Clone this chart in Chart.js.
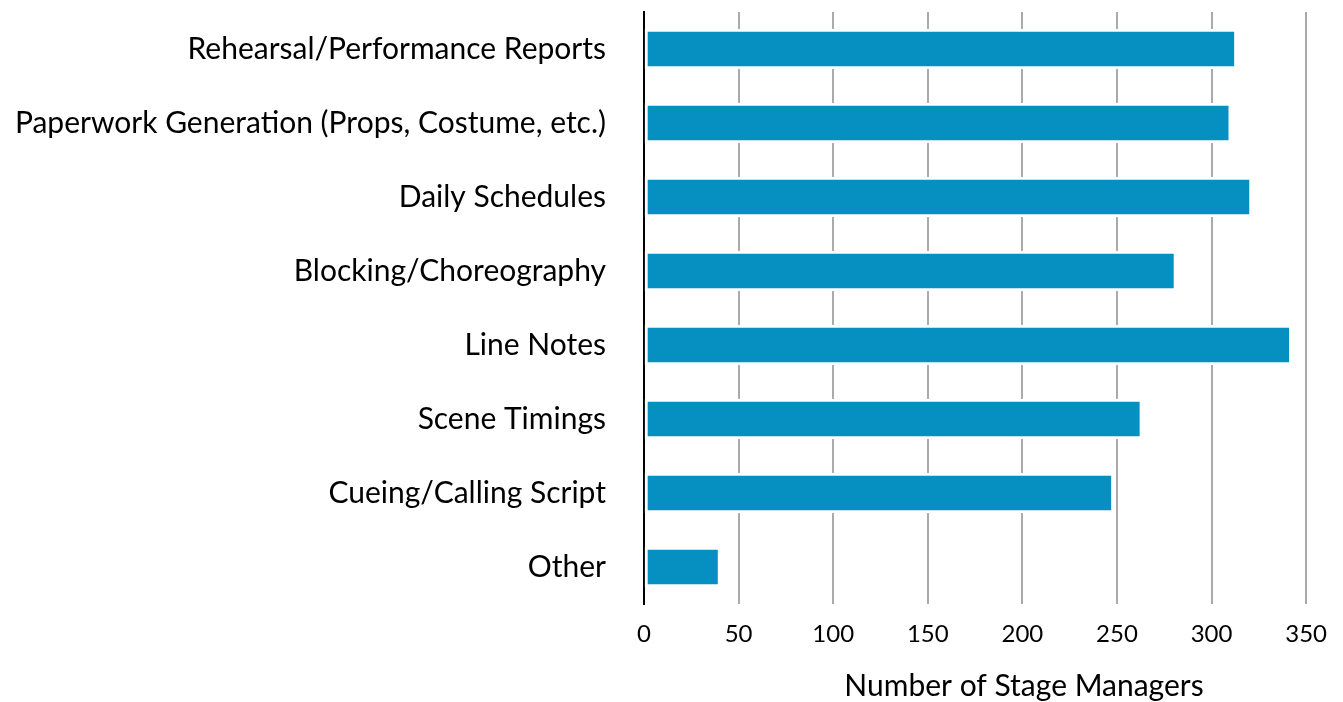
<!DOCTYPE html>
<html>
<head>
<meta charset="utf-8">
<script src="https://cdn.jsdelivr.net/npm/chart.js@4/dist/chart.umd.min.js"></script>
<style>
html,body{margin:0;padding:0;background:#fff;}
#wrap{width:1343px;height:702px;position:relative;}
</style>
</head>
<body>
<div id="wrap"><canvas id="c" width="1343" height="702"></canvas></div>
<script>
const categories = [
  "Rehearsal/Performance Reports",
  "Paperwork Generation (Props, Costume, etc.)",
  "Daily Schedules",
  "Blocking/Choreography",
  "Line Notes",
  "Scene Timings",
  "Cueing/Calling Script",
  "Other"
];
const stageManagers = [312, 309, 320, 280, 341, 262, 247, 39];
const xTicks = [0, 50, 100, 150, 200, 250, 300, 350];
const xTitle = "Number of Stage Managers";

const FONT = "Lato, 'Open Sans', sans-serif";

const axisTitlePlugin = {
  id: 'axisTitle',
  afterDraw(chart) {
    const ctx = chart.ctx;
    ctx.save();
    ctx.font = "30px " + FONT;
    ctx.fillStyle = '#000';
    ctx.textAlign = 'center';
    ctx.textBaseline = 'middle';
    ctx.fillText(xTitle, 1024, 686);
    ctx.restore();
  }
};

new Chart(document.getElementById('c'), {
  type: 'bar',
  data: {
    labels: categories,
    datasets: [{
      data: stageManagers,
      backgroundColor: '#068FC1',
      borderColor: '#ffffff',
      borderWidth: {left: 3, top: 3, bottom: 3, right: 0},
      borderSkipped: false,
      barThickness: 40
    }]
  },
  plugins: [axisTitlePlugin],
  options: {
    indexAxis: 'y',
    responsive: false,
    animation: false,
    layout: {padding: {top: 12, right: 36, left: 0, bottom: 0}},
    plugins: {legend: {display: false}, tooltip: {enabled: false}},
    scales: {
      x: {
        min: 0, max: 350,
        afterBuildTicks: (s) => { s.ticks = xTicks.map(v => ({value: v})); },
        afterFit: (s) => { s.height = 98; s.paddingLeft = 0; },
        grid: {color: '#AAAAAA', lineWidth: 2, drawTicks: false},
        border: {display: false},
        ticks: {color: '#000', font: {family: FONT, size: 24}, padding: 16}
      },
      y: {
        afterFit: (s) => { s.width = 644; s.paddingTop = 0; s.paddingBottom = 0; },
        grid: {display: false, drawTicks: false},
        border: {display: true, color: '#000', width: 2},
        ticks: {color: '#000', font: {family: FONT, size: 30}, padding: 38}
      }
    }
  }
});
</script>
</body>
</html>
